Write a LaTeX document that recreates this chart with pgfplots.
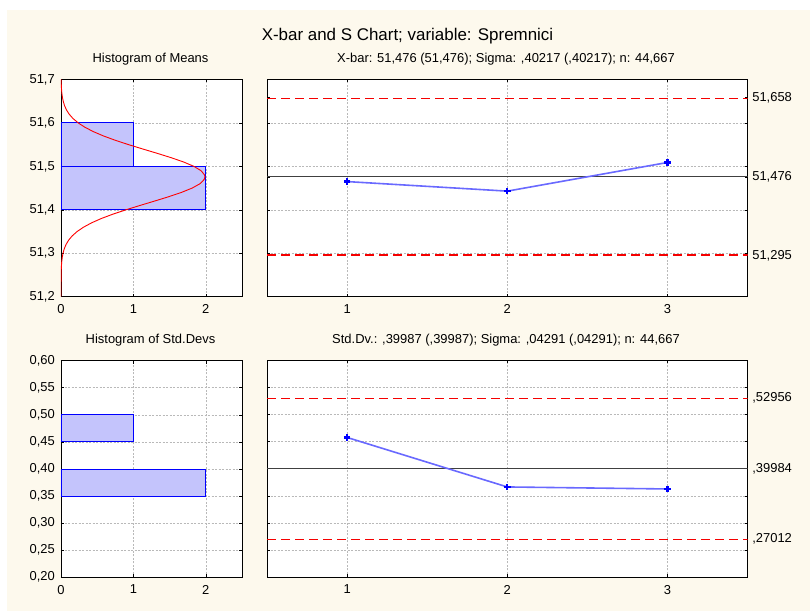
\documentclass[border=0pt]{standalone}
\usepackage{fontspec}
\setmainfont{Liberation Sans}
\usepackage{pgfplots}
\pgfplotsset{compat=1.18}
\definecolor{bgbeige}{RGB}{253,249,237}
\definecolor{gridgray}{RGB}{185,185,185}
\definecolor{barfill}{RGB}{196,196,252}
\definecolor{linecol}{RGB}{105,105,255}
\definecolor{limred}{RGB}{245,0,0}
\begin{document}
\begin{tikzpicture}
\fill[white] (0bp,0bp) rectangle (810bp,611bp);
\fill[bgbeige] (7bp,0bp) rectangle (810bp,601bp);
\pgfplotsset{
  every axis/.append style={
    scale only axis,
    anchor=south west,
    axis background/.style={fill=white},
    axis line style={black, line width=0.8bp},
    tick style={black, line width=0.6bp},
    major tick length=3bp,
    minor tick length=3bp,
    tick pos=both,
    tick align=inside,
    grid style={gridgray, dash pattern=on 2bp off 1.5bp, line width=0.6bp},
    minor grid style={gridgray, dash pattern=on 2bp off 1.5bp, line width=0.6bp},
    tick label style={font=\fontsize{13}{15}\selectfont, inner sep=0pt},
    xticklabel shift=7.5bp,
  },
  limit/.style={limred, dash pattern=on 9bp off 5bp, line width=1.15bp},
  center/.style={black!75, line width=1.1bp},
  data/.style={linecol, line width=1.6bp, mark=+, mark size=3.2bp, mark options={blue, line width=2.3bp, solid}},
}
% ---------- Top-left: Histogram of Means ----------
\begin{axis}[at={(61bp,314.3bp)}, width=181bp, height=217.2bp,
  xmin=0, xmax=2.5, ymin=51.2, ymax=51.7,
  xtick={0,1,2}, xticklabels={0,1,2},
  ytick={51.2,51.3,51.4,51.5,51.6,51.7},
  yticklabels={{51,2},{51,3},{51,4},{51,5},{51,6},{51,7}},
  yticklabel shift=6bp,
  xmajorgrids, ymajorgrids]
\addplot[draw=blue, fill=barfill, line width=0.9bp] coordinates {(0,51.4)(2,51.4)(2,51.5)(0,51.5)(0,51.4)};
\addplot[draw=blue, fill=barfill, line width=0.9bp] coordinates {(0,51.5)(1,51.5)(1,51.6)(0,51.6)(0,51.5)};
\addplot[red, line width=0.9bp] coordinates {
(0.0001,51.20)(0.0001,51.21)(0.0002,51.22)(0.0005,51.23)(0.0009,51.24)
(0.0017,51.25)(0.0032,51.26)(0.0057,51.27)(0.0099,51.28)(0.0168,51.29)
(0.0277,51.30)(0.0444,51.31)(0.0692,51.32)(0.1050,51.33)(0.1549,51.34)
(0.2225,51.35)(0.3107,51.36)(0.4219,51.37)(0.5572,51.38)(0.7167,51.39)
(0.8960,51.40)(1.0900,51.41)(1.2898,51.42)(1.4846,51.43)(1.6625,51.44)
(1.8111,51.45)(1.9190,51.46)(1.9781,51.47)(1.9880,51.476)(1.9836,51.48)
(1.9349,51.49)(1.8361,51.50)(1.6950,51.51)(1.5220,51.52)(1.3296,51.53)
(1.1298,51.54)(0.9340,51.55)(0.7509,51.56)(0.5875,51.57)(0.4471,51.58)
(0.3310,51.59)(0.2384,51.60)(0.1670,51.61)(0.1137,51.62)(0.0754,51.63)
(0.0486,51.64)(0.0305,51.65)(0.0186,51.66)(0.0110,51.67)(0.0064,51.68)
(0.0036,51.69)(0.0020,51.70)};
\end{axis}
% ---------- Top-right: X-bar chart ----------
\begin{axis}[at={(267bp,314.3bp)}, width=480.6bp, height=217.2bp,
  xmin=0.5, xmax=3.5, ymin=51.2, ymax=51.7,
  xtick={1,2,3}, xticklabels={1,2,3},
  ytick={51.295,51.476,51.658},
  yticklabels={{51,295},{51,476},{51,658}},
  yticklabel pos=right, yticklabel shift=4.5bp,
  minor ytick={51.3,51.4,51.5,51.6},
  xmajorgrids, yminorgrids]
\addplot[limit] coordinates {(0.5,51.657)(3.5,51.657)};
\addplot[limit] coordinates {(0.5,51.296)(3.5,51.296)};
\addplot[center] coordinates {(0.5,51.476)(3.5,51.476)};
\addplot[data] coordinates {(1,51.465)(2,51.443)(3,51.509)};
\end{axis}
% ---------- Bottom-left: Histogram of Std.Devs ----------
\begin{axis}[at={(61bp,33.7bp)}, width=181bp, height=216.6bp,
  xmin=0, xmax=2.5, ymin=0.2, ymax=0.6,
  xtick={0,1,2}, xticklabels={0,1,2},
  ytick={0.2,0.25,0.3,0.35,0.4,0.45,0.5,0.55,0.6},
  yticklabels={{0,20},{0,25},{0,30},{0,35},{0,40},{0,45},{0,50},{0,55},{0,60}},
  yticklabel shift=6bp,
  xmajorgrids, ymajorgrids]
\addplot[draw=blue, fill=barfill, line width=0.9bp] coordinates {(0,0.35)(2,0.35)(2,0.40)(0,0.40)(0,0.35)};
\addplot[draw=blue, fill=barfill, line width=0.9bp] coordinates {(0,0.45)(1,0.45)(1,0.50)(0,0.50)(0,0.45)};
\end{axis}
% ---------- Bottom-right: S chart ----------
\begin{axis}[at={(267bp,33.7bp)}, width=480.6bp, height=217.3bp,
  xmin=0.5, xmax=3.5, ymin=0.2, ymax=0.6,
  xtick={1,2,3}, xticklabels={1,2,3},
  ytick={0.27012,0.39984,0.52956},
  yticklabels={{,27012},{,39984},{,52956}},
  yticklabel pos=right, yticklabel shift=4.5bp,
  minor ytick={0.25,0.3,0.35,0.4,0.45,0.5,0.55},
  xmajorgrids, yminorgrids]
\addplot[limit] coordinates {(0.5,0.5294)(3.5,0.5294)};
\addplot[limit] coordinates {(0.5,0.2703)(3.5,0.2703)};
\addplot[center] coordinates {(0.5,0.39984)(3.5,0.39984)};
\addplot[data] coordinates {(1,0.4574)(2,0.3663)(3,0.3626)};
\end{axis}
% ---------- Titles ----------
\node[anchor=base, font=\fontsize{17}{20}\selectfont] at (407.5bp,570bp) {X-bar and S Chart; variable: Spremnici};
\node[anchor=base, font=\fontsize{13}{15}\selectfont] at (150.5bp,548.3bp) {Histogram of Means};
\node[anchor=base, font=\fontsize{13}{15}\selectfont] at (506bp,548.3bp) {X-bar: 51,476 (51,476); Sigma: ,40217 (,40217); n: 44,667};
\node[anchor=base, font=\fontsize{13}{15}\selectfont] at (150.5bp,267.7bp) {Histogram of Std.Devs};
\node[anchor=base, font=\fontsize{13}{15}\selectfont] at (506bp,267.2bp) {Std.Dv.: ,39987 (,39987); Sigma: ,04291 (,04291); n: 44,667};
\end{tikzpicture}
\end{document}
